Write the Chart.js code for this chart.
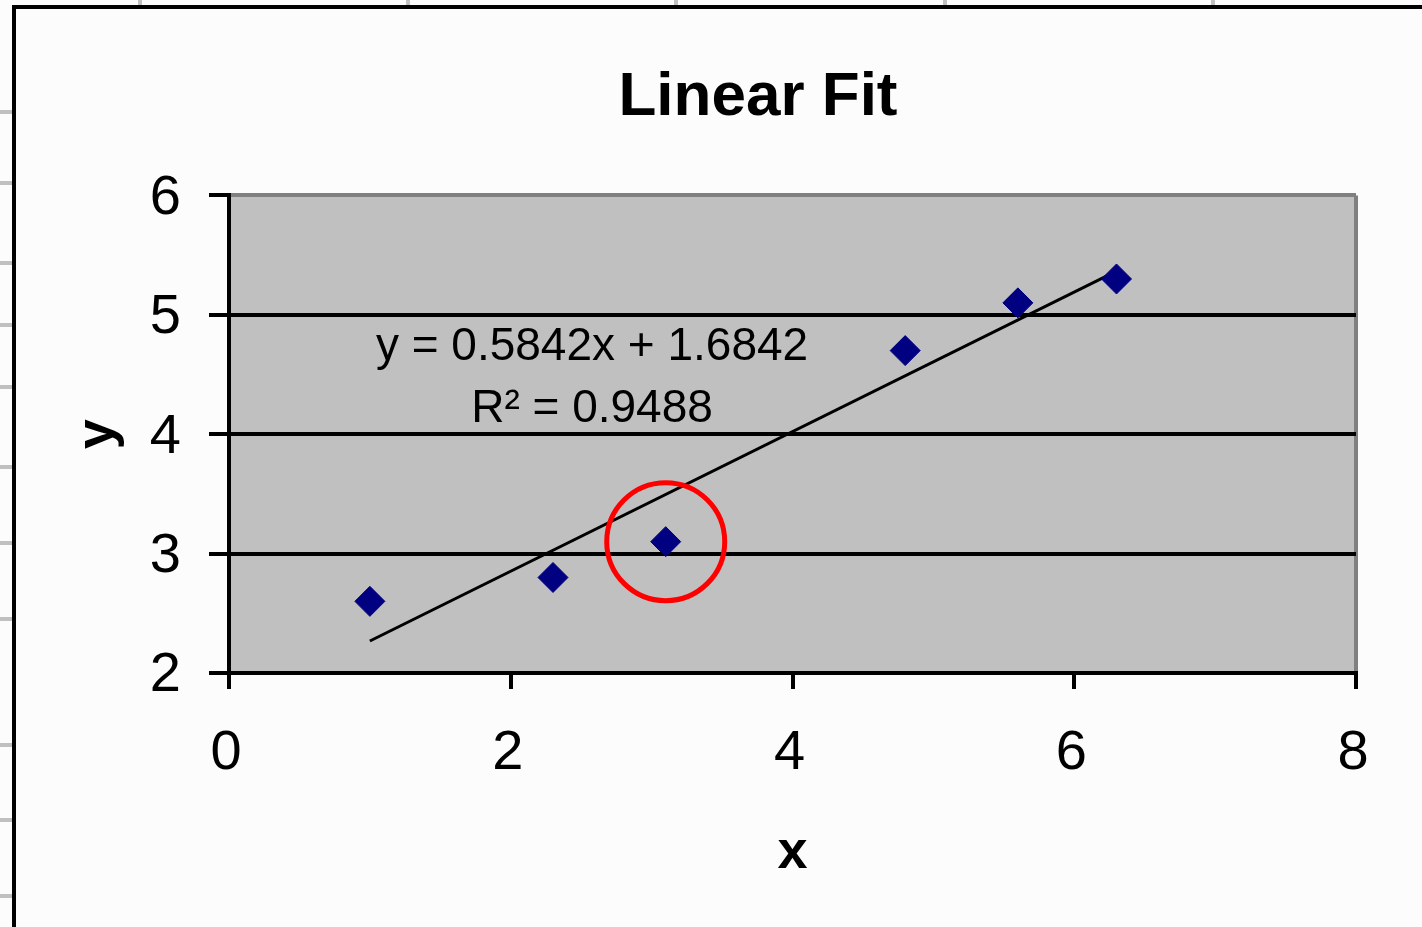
<!DOCTYPE html>
<html>
<head>
<meta charset="utf-8">
<script src="https://cdn.jsdelivr.net/npm/chart.js@4/dist/chart.umd.min.js"></script>
<style>
html, body { margin: 0; padding: 0; background: #fcfcfc; overflow: hidden; width: 1422px; height: 927px; }
#wrap { position: absolute; left: 16px; top: 9px; width: 1484px; height: 918px; }
.frame { position: absolute; background: #000; }
.stub { position: absolute; background: #c0c0c0; }
</style>
</head>
<body>
<div id="deco"></div>
<div class="frame" style="left:12px;top:5px;width:4px;height:922px"></div>
<div class="frame" style="left:12px;top:5px;width:1410px;height:4px"></div>
<div id="wrap"><canvas id="c" width="1484" height="918"></canvas></div>
<script>
// ---- data ----
const titleText = 'Linear Fit';
const xAxisTitle = 'x';
const yAxisTitle = 'y';
const xValues = [1, 2.3, 3.1, 4.8, 5.6, 6.3];
const yValues = [2.6, 2.8, 3.1, 4.7, 5.1, 5.3];
const trendX = [1, 6.3];
const trendY = [2.268, 5.365];
const circledX = [3.1];
const circledY = [3.1];
const xTicks = [0, 2, 4, 6, 8];
const yTicks = [2, 3, 4, 5, 6];
const equationLines = ['y = 0.5842x + 1.6842', 'R\u00B2 = 0.9488'];
const equationAnchorX = 2.577;
const equationAnchorY = [4.728, 4.209];

// ---- spreadsheet decoration (background sheet gridline stubs) ----
const deco = document.getElementById('deco');
[112, 183, 263, 325, 387, 467, 543, 619, 745, 820, 896].forEach(y => {
  const d = document.createElement('div'); d.className = 'stub';
  d.style.cssText = `left:0;top:${y - 2}px;width:12px;height:4px`; deco.appendChild(d);
});
[140, 408, 676, 945, 1213].forEach(x => {
  const d = document.createElement('div'); d.className = 'stub';
  d.style.cssText = `left:${x - 2}px;top:0;width:4px;height:5px`; deco.appendChild(d);
});

const FONT = '"Liberation Sans", Arial, sans-serif';

const plotBg = {
  id: 'plotBg',
  beforeDraw(chart) {
    const { ctx, chartArea: a } = chart;
    ctx.save();
    ctx.fillStyle = '#c0c0c0';
    ctx.fillRect(a.left, a.top, a.right - a.left, a.bottom - a.top);
    ctx.restore();
  }
};

const eqLabel = {
  id: 'eqLabel',
  afterDatasetsDraw(chart) {
    const { ctx } = chart;
    const xs = chart.scales.x, ys = chart.scales.y;
    ctx.save();
    ctx.fillStyle = '#000';
    ctx.font = `46px ${FONT}`;
    ctx.textAlign = 'center';
    ctx.textBaseline = 'middle';
    equationLines.forEach((t, i) => {
      ctx.fillText(t, xs.getPixelForValue(equationAnchorX), ys.getPixelForValue(equationAnchorY[i]));
    });
    ctx.restore();
  }
};

new Chart(document.getElementById('c'), {
  type: 'scatter',
  data: {
    datasets: [
      {
        label: 'circle',
        order: 0,
        data: circledX.map((x, i) => ({ x, y: circledY[i] })),
        pointStyle: 'circle',
        pointRadius: 59,
        borderColor: '#ff0000',
        borderWidth: 5,
        backgroundColor: 'rgba(0,0,0,0)'
      },
      {
        label: 'data',
        order: 1,
        data: xValues.map((x, i) => ({ x, y: yValues[i] })),
        pointStyle: 'rectRot',
        pointRadius: 15,
        backgroundColor: '#000080',
        borderColor: '#000080',
        borderWidth: 1
      },
      {
        label: 'trend',
        order: 2,
        type: 'line',
        data: trendX.map((x, i) => ({ x, y: trendY[i] })),
        borderColor: '#000',
        borderWidth: 3,
        pointRadius: 0,
        fill: false
      }
    ]
  },
  options: {
    responsive: false,
    animation: false,
    events: [],
    layout: { padding: 0 },
    plugins: {
      legend: { display: false },
      tooltip: { enabled: false },
      title: {
        display: true, text: titleText, color: '#000',
        font: { family: FONT, size: 62, weight: 'bold' },
        padding: { top: 52, bottom: 60 }
      }
    },
    scales: {
      x: {
        type: 'linear', position: 'bottom', min: 0, max: 8,
        afterBuildTicks: s => { s.ticks = xTicks.map(v => ({ value: v })); },
        afterFit: s => { s.height = 254; },
        grid: {
          drawOnChartArea: true,
          color: c => (c.tick && c.tick.value === 8) ? '#808080' : 'rgba(0,0,0,0)',
          tickColor: '#000', lineWidth: 4, tickWidth: 4, tickLength: 16
        },
        border: { display: true, color: '#000', width: 4 },
        ticks: { color: '#000', font: { family: FONT, size: 56 }, padding: 31, maxRotation: 0, autoSkip: false, labelOffset: -3 },
        title: { display: true, text: xAxisTitle, color: '#000', font: { family: FONT, size: 54, weight: 'bold' }, padding: { top: 0, bottom: 41 } }
      },
      y: {
        type: 'linear', position: 'left', min: 2, max: 6,
        afterBuildTicks: s => { s.ticks = yTicks.map(v => ({ value: v })); },
        afterFit: s => { s.width = 213; },
        grid: {
          drawOnChartArea: true,
          color: c => (c.tick && c.tick.value === 6) ? '#808080' : '#000',
          tickColor: '#000', lineWidth: 4, tickWidth: 4, tickLength: 20
        },
        border: { display: true, color: '#000', width: 4 },
        ticks: { color: '#000', font: { family: FONT, size: 56 }, padding: 28, autoSkip: false, labelOffset: 3 },
        title: { display: true, text: yAxisTitle, color: '#000', font: { family: FONT, size: 54, weight: 'bold' }, padding: { top: 50, bottom: 0 } }
      },
      y2: {
        type: 'linear', position: 'right', display: true,
        afterFit: s => { s.width = 144; },
        grid: { display: false },
        ticks: { display: false },
        border: { display: false }
      }
    }
  },
  plugins: [plotBg, eqLabel]
});
</script>
</body>
</html>
